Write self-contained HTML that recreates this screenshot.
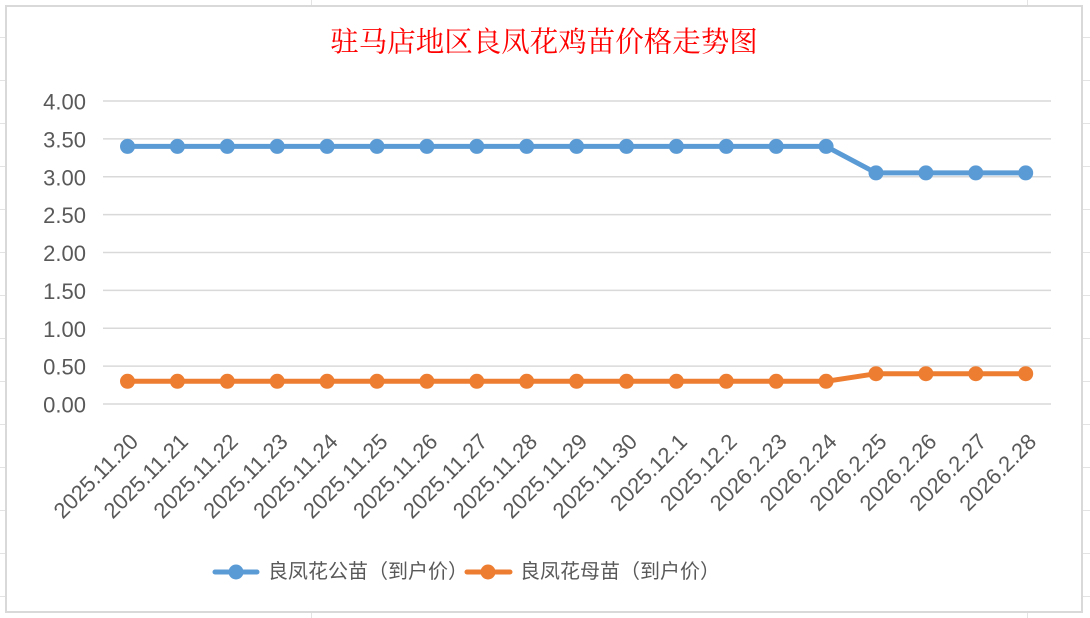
<!DOCTYPE html>
<html>
<head>
<meta charset="utf-8">
<style>
html,body{margin:0;padding:0;background:#fff;}
svg{display:block;}
</style>
</head>
<body>
<svg width="1090" height="618" viewBox="0 0 1090 618" xmlns="http://www.w3.org/2000/svg">
  <rect x="0" y="0" width="1090" height="618" fill="#fff"/>
  <!-- spreadsheet gridlines outside chart -->
  <g stroke="#e3e3e3" stroke-width="1">
    <line x1="0" y1="37.5" x2="6" y2="37.5"/>
    <line x1="0" y1="80.5" x2="6" y2="80.5"/>
    <line x1="0" y1="123.5" x2="6" y2="123.5"/>
    <line x1="0" y1="166.5" x2="6" y2="166.5"/>
    <line x1="0" y1="209.5" x2="6" y2="209.5"/>
    <line x1="0" y1="252.5" x2="6" y2="252.5"/>
    <line x1="0" y1="295.5" x2="6" y2="295.5"/>
    <line x1="0" y1="338.5" x2="6" y2="338.5"/>
    <line x1="0" y1="381.5" x2="6" y2="381.5"/>
    <line x1="0" y1="424.5" x2="6" y2="424.5"/>
    <line x1="0" y1="467.5" x2="6" y2="467.5"/>
    <line x1="0" y1="510.5" x2="6" y2="510.5"/>
    <line x1="0" y1="553.5" x2="6" y2="553.5"/>
    <line x1="0" y1="596.5" x2="6" y2="596.5"/>
    <line x1="1083" y1="37.5" x2="1090" y2="37.5"/>
    <line x1="1083" y1="80.5" x2="1090" y2="80.5"/>
    <line x1="1083" y1="123.5" x2="1090" y2="123.5"/>
    <line x1="1083" y1="166.5" x2="1090" y2="166.5"/>
    <line x1="1083" y1="209.5" x2="1090" y2="209.5"/>
    <line x1="1083" y1="252.5" x2="1090" y2="252.5"/>
    <line x1="1083" y1="295.5" x2="1090" y2="295.5"/>
    <line x1="1083" y1="338.5" x2="1090" y2="338.5"/>
    <line x1="1083" y1="381.5" x2="1090" y2="381.5"/>
    <line x1="1083" y1="424.5" x2="1090" y2="424.5"/>
    <line x1="1083" y1="467.5" x2="1090" y2="467.5"/>
    <line x1="1083" y1="510.5" x2="1090" y2="510.5"/>
    <line x1="1083" y1="553.5" x2="1090" y2="553.5"/>
    <line x1="1083" y1="596.5" x2="1090" y2="596.5"/>
    <line x1="311.5" y1="0" x2="311.5" y2="6"/>
    <line x1="311.5" y1="613" x2="311.5" y2="618"/>
    <line x1="1027.5" y1="613" x2="1027.5" y2="618"/>
    <line x1="1027.5" y1="0" x2="1027.5" y2="6"/>
  </g>
  <!-- chart frame -->
  <rect x="6" y="6" width="1076" height="606" fill="#fff" stroke="#d9d9d9" stroke-width="2"/>

  <!-- title -->
  <text x="544" y="43" text-anchor="middle" dominant-baseline="central" fill="#ff0000" font-size="28.5" font-family="'Liberation Serif','Noto Serif CJK SC',serif">驻马店地区良凤花鸡苗价格走势图</text>

  <!-- gridlines -->
  <g stroke="#d9d9d9" stroke-width="1.5">
    <line x1="103" y1="101" x2="1051" y2="101"/>
    <line x1="103" y1="138.9" x2="1051" y2="138.9"/>
    <line x1="103" y1="176.75" x2="1051" y2="176.75"/>
    <line x1="103" y1="214.6" x2="1051" y2="214.6"/>
    <line x1="103" y1="252.5" x2="1051" y2="252.5"/>
    <line x1="103" y1="290.4" x2="1051" y2="290.4"/>
    <line x1="103" y1="328.25" x2="1051" y2="328.25"/>
    <line x1="103" y1="366.1" x2="1051" y2="366.1"/>
    <line x1="103" y1="404" x2="1051" y2="404"/>
  </g>

  <!-- y labels -->
  <g fill="#595959" font-size="22" font-family="'Liberation Sans',sans-serif" text-anchor="end" dominant-baseline="central">
    <text x="86" y="102">4.00</text>
    <text x="86" y="139.9">3.50</text>
    <text x="86" y="177.75">3.00</text>
    <text x="86" y="215.6">2.50</text>
    <text x="86" y="253.5">2.00</text>
    <text x="86" y="291.4">1.50</text>
    <text x="86" y="329.25">1.00</text>
    <text x="86" y="367.1">0.50</text>
    <text x="86" y="405">0.00</text>
  </g>

  <!-- x labels -->
  <g fill="#595959" font-size="22" font-family="'Liberation Sans',sans-serif" text-anchor="end">
    <text transform="translate(139.5,443) rotate(-45)">2025.11.20</text>
    <text transform="translate(189.4,443) rotate(-45)">2025.11.21</text>
    <text transform="translate(239.3,443) rotate(-45)">2025.11.22</text>
    <text transform="translate(289.2,443) rotate(-45)">2025.11.23</text>
    <text transform="translate(339.1,443) rotate(-45)">2025.11.24</text>
    <text transform="translate(389,443) rotate(-45)">2025.11.25</text>
    <text transform="translate(438.9,443) rotate(-45)">2025.11.26</text>
    <text transform="translate(488.8,443) rotate(-45)">2025.11.27</text>
    <text transform="translate(538.7,443) rotate(-45)">2025.11.28</text>
    <text transform="translate(588.6,443) rotate(-45)">2025.11.29</text>
    <text transform="translate(638.5,443) rotate(-45)">2025.11.30</text>
    <text transform="translate(688.4,443) rotate(-45)">2025.12.1</text>
    <text transform="translate(738.3,443) rotate(-45)">2025.12.2</text>
    <text transform="translate(788.2,443) rotate(-45)">2026.2.23</text>
    <text transform="translate(838.1,443) rotate(-45)">2026.2.24</text>
    <text transform="translate(888,443) rotate(-45)">2026.2.25</text>
    <text transform="translate(937.9,443) rotate(-45)">2026.2.26</text>
    <text transform="translate(987.8,443) rotate(-45)">2026.2.27</text>
    <text transform="translate(1037.7,443) rotate(-45)">2026.2.28</text>
  </g>

  <!-- blue series -->
  <polyline fill="none" stroke="#5b9bd5" stroke-width="5" stroke-linejoin="round" stroke-linecap="round"
    points="127.5,146.4 177.4,146.4 227.3,146.4 277.2,146.4 327.1,146.4 377,146.4 426.9,146.4 476.8,146.4 526.7,146.4 576.6,146.4 626.5,146.4 676.4,146.4 726.3,146.4 776.2,146.4 826.1,146.4 876,172.9 925.9,172.9 975.8,172.9 1025.7,172.9"/>
  <g fill="#5b9bd5">
    <circle cx="127.5" cy="146.4" r="7.5"/><circle cx="177.4" cy="146.4" r="7.5"/><circle cx="227.3" cy="146.4" r="7.5"/>
    <circle cx="277.2" cy="146.4" r="7.5"/><circle cx="327.1" cy="146.4" r="7.5"/><circle cx="377" cy="146.4" r="7.5"/>
    <circle cx="426.9" cy="146.4" r="7.5"/><circle cx="476.8" cy="146.4" r="7.5"/><circle cx="526.7" cy="146.4" r="7.5"/>
    <circle cx="576.6" cy="146.4" r="7.5"/><circle cx="626.5" cy="146.4" r="7.5"/><circle cx="676.4" cy="146.4" r="7.5"/>
    <circle cx="726.3" cy="146.4" r="7.5"/><circle cx="776.2" cy="146.4" r="7.5"/><circle cx="826.1" cy="146.4" r="7.5"/>
    <circle cx="876" cy="172.9" r="7.5"/><circle cx="925.9" cy="172.9" r="7.5"/><circle cx="975.8" cy="172.9" r="7.5"/>
    <circle cx="1025.7" cy="172.9" r="7.5"/>
  </g>

  <!-- orange series -->
  <polyline fill="none" stroke="#ed7d31" stroke-width="5" stroke-linejoin="round" stroke-linecap="round"
    points="127.5,381.3 177.4,381.3 227.3,381.3 277.2,381.3 327.1,381.3 377,381.3 426.9,381.3 476.8,381.3 526.7,381.3 576.6,381.3 626.5,381.3 676.4,381.3 726.3,381.3 776.2,381.3 826.1,381.3 876,373.7 925.9,373.7 975.8,373.7 1025.7,373.7"/>
  <g fill="#ed7d31">
    <circle cx="127.5" cy="381.3" r="7.5"/><circle cx="177.4" cy="381.3" r="7.5"/><circle cx="227.3" cy="381.3" r="7.5"/>
    <circle cx="277.2" cy="381.3" r="7.5"/><circle cx="327.1" cy="381.3" r="7.5"/><circle cx="377" cy="381.3" r="7.5"/>
    <circle cx="426.9" cy="381.3" r="7.5"/><circle cx="476.8" cy="381.3" r="7.5"/><circle cx="526.7" cy="381.3" r="7.5"/>
    <circle cx="576.6" cy="381.3" r="7.5"/><circle cx="626.5" cy="381.3" r="7.5"/><circle cx="676.4" cy="381.3" r="7.5"/>
    <circle cx="726.3" cy="381.3" r="7.5"/><circle cx="776.2" cy="381.3" r="7.5"/><circle cx="826.1" cy="381.3" r="7.5"/>
    <circle cx="876" cy="373.7" r="7.5"/><circle cx="925.9" cy="373.7" r="7.5"/><circle cx="975.8" cy="373.7" r="7.5"/>
    <circle cx="1025.7" cy="373.7" r="7.5"/>
  </g>

  <!-- legend -->
  <line x1="215" y1="572" x2="257" y2="572" stroke="#5b9bd5" stroke-width="5" stroke-linecap="round"/>
  <circle cx="236" cy="572" r="7.5" fill="#5b9bd5"/>
  <text x="268" y="572" dominant-baseline="central" fill="#595959" font-size="20" font-family="'Liberation Sans','Noto Sans CJK SC',sans-serif">良凤花公苗（到户价）</text>
  <line x1="467" y1="572" x2="510" y2="572" stroke="#ed7d31" stroke-width="5" stroke-linecap="round"/>
  <circle cx="488" cy="572" r="7.5" fill="#ed7d31"/>
  <text x="520" y="572" dominant-baseline="central" fill="#595959" font-size="20" font-family="'Liberation Sans','Noto Sans CJK SC',sans-serif">良凤花母苗（到户价）</text>
</svg>
</body>
</html>
